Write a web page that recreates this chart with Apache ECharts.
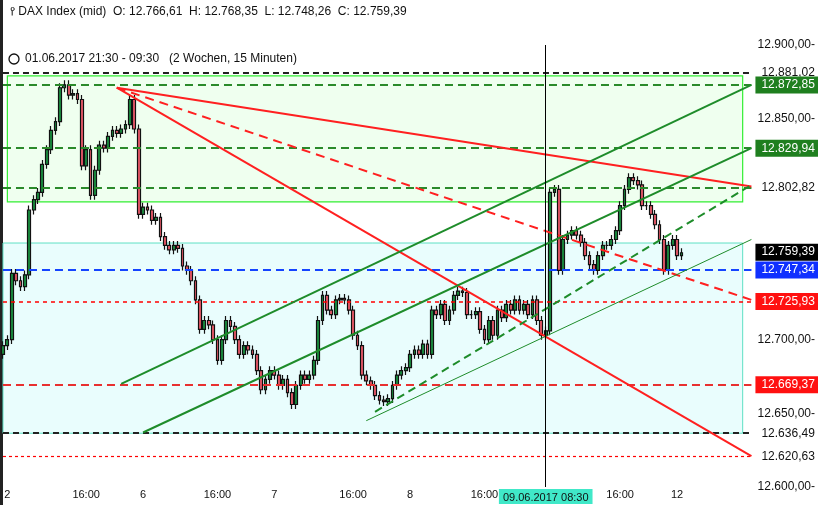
<!DOCTYPE html>
<html><head><meta charset="utf-8">
<script src="https://cdn.jsdelivr.net/npm/echarts@6/dist/echarts.min.js"></script>
<style>html,body{margin:0;padding:0;background:#fff}#c{width:818px;height:505px}</style>
</head><body><div id="c"></div>
<script>
// closes per 15-min bar (three visual segments)
const closesA = [12696,12700,12745,12740,12736,12744,12788,12795,12800,12819,12829,12842,12848,12871,12873,12866,12867,12863,12818,12829,12798,12815,12832,12830,12838,12842,12840,12843,12846,12863,12843];
const closesB = [12785,12790,12788,12781,12783,12770,12764,12761,12764,12762,
 12750,12747,12740,12727,12707,12713,12710,12700,12686,12700,
 12713,12709,12700,12690,12696,12693,12690,12679,12666,12673,
 12679,12676,12669,12673,12664,12656,12669,12676,12673,12676,
 12686,12713,12730,12720,12717,12727,12728,12727,12720,12703,
 12696,12676,12672,12669,12662,12659,12658,12660,12669,12676,
 12679,12681,12690,12693,12690,12697,12690,12720,12717,12724,
 12713,12720,12730,12733,12732,12717,12717,12719,12707,12700,
 12713,12703,12720,12715,12724,12720,12727,12720,12724,12717,12727,12713,12703,12706];
const closesC = [12800,12802,12747,12768,12771,12774,12771,12766,12757,12751,12747,12757,12764,12764,12768,12774,12791,12802,12810,12808,12805,12791,12791,12785,12778,12768,12747,12764,12768,12757,12759];
const firstOpen = 12690;
const totalSlots = 172;
const tickLabels = {1:'2',19:'16:00',32:'6',49:'16:00',62:'7',80:'16:00',93:'8',110:'16:00',124:'09.06.2017 08:30',141:'16:00',154:'12'};
const hiddenAxisValues = [12800,12750];
const hLines = [
 {v:12881.02, color:'#222', w:2, type:[6,4], tag:'12.881,02', bg:null},
 {v:12872.85, color:'#2a8a2a', w:2, type:[8,5], tag:'12.872,85', bg:'#1f7f1f'},
 {v:12829.94, color:'#2a8a2a', w:2, type:[8,5], tag:'12.829,94', bg:'#1f7f1f'},
 {v:12802.82, color:'#2a8a2a', w:2, type:[8,5], tag:'12.802,82', bg:null},
 {v:12747.34, color:'#1444ff', w:2, type:[8,5], tag:'12.747,34', bg:'#1030ff'},
 {v:12725.93, color:'#ff0000', w:1.5, type:[4,4], tag:'12.725,93', bg:'#ff1010'},
 {v:12669.37, color:'#e83030', w:2, type:[8,5], tag:'12.669,37', bg:'#ff1010'},
 {v:12636.49, color:'#222', w:2, type:[6,4], tag:'12.636,49', bg:null},
 {v:12620.63, color:'#ff0000', w:1.2, type:[3,3], tag:'12.620,63', bg:null},
 {v:12759.39, color:'rgba(0,0,0,0)', w:0, type:'solid', tag:'12.759,39', bg:'#000'}
];
// trend lines: [idx1, price1, idx2, price2]
const trends = [
 {p:[26,12871,171,12804], color:'#ff2020', type:'solid', w:2},
 {p:[26,12871,171,12621], color:'#ff2020', type:'solid', w:2},
 {p:[26,12871,171,12727], color:'#ff2020', type:[9,6], w:2},
 {p:[27,12670,171,12873], color:'#1e8c2a', type:'solid', w:2},
 {p:[32,12637,171,12830], color:'#1e8c2a', type:'solid', w:2},
 {p:[85,12651,171,12805], color:'#1e8c2a', type:[8,5], w:2},
 {p:[83,12645,171,12768], color:'#1e8c2a', type:'solid', w:1}
];

const closes = closesA.concat(closesB, closesC);
const candles = [];
let prev = firstOpen;
closes.forEach(c => { const lo=Math.min(prev,c), hi=Math.max(prev,c); candles.push([prev,c,lo-3,hi+3]); prev=c; });
const cats = []; for (let i=0;i<totalSlots;i++) cats.push(String(i));
const fmt = v => { const s=v.toFixed(2).split('.'); return s[0].replace(/\B(?=(\d{3})+(?!\d))/g,'.')+','+s[1]; };

const mlData = [];
hLines.forEach(h => {
  mlData.push([{coord:[0,h.v], lineStyle:{color:h.color,width:h.w,type:h.type},
    label:{show:true,position:'end',distance:4,formatter:h.tag,color:h.bg?'#fff':'#111',backgroundColor:h.bg||'transparent',padding:[3,4,2,6],fontSize:12,fontFamily:'Liberation Sans, Arial'}},
    {coord:[totalSlots-1,h.v]}]);
});
trends.forEach(t => {
  mlData.push([{coord:[t.p[0],t.p[1]], lineStyle:{color:t.color,width:t.w,type:t.type}, label:{show:false}},{coord:[t.p[2],t.p[3]]}]);
});
mlData.push([{coord:[124,12600], lineStyle:{color:'#000',width:1,type:'solid'}, label:{show:false}},{coord:[124,12900]}]);

const chart = echarts.init(document.getElementById('c'));
chart.setOption({
  animation:false,
  grid:{left:0,right:61,top:45,bottom:18},
  xAxis:{type:'category',data:cats,boundaryGap:true,axisLine:{show:false},axisTick:{show:false},splitLine:{show:false},
    axisLabel:{interval:0,margin:2,fontSize:11,fontFamily:'Liberation Sans, Arial',color:'#111',
      formatter:(v,i)=>tickLabels[i]?(i===124?'{hl|'+tickLabels[i]+'}':tickLabels[i]):'',
      rich:{hl:{backgroundColor:'#40e8c8',padding:[3,4,1,4],fontSize:11,color:'#111'}}}},
  yAxis:{type:'value',position:'right',min:12600,max:12900,interval:50,
    axisLine:{show:false},axisTick:{show:false},splitLine:{show:false},
    axisLabel:{formatter:v=>hiddenAxisValues.includes(v)?'':fmt(v)+'-',fontSize:12,fontFamily:'Liberation Sans, Arial',color:'#111',margin:4}},
  graphic:[
    {type:'rect',left:0,top:0,shape:{width:3,height:505},style:{fill:'#222'}},
    {type:'text',left:10,top:6,style:{text:'⫯ DAX Index (mid)  O: 12.766,61  H: 12.768,35  L: 12.748,26  C: 12.759,39',fontSize:12,fontFamily:'Liberation Sans, Arial',fill:'#111'}},
    {type:'circle',shape:{cx:14,cy:59,r:5},style:{fill:'none',stroke:'#111',lineWidth:1.3}},
    {type:'text',left:25,top:53,style:{text:'01.06.2017 21:30 - 09:30   (2 Wochen, 15 Minuten)',fontSize:12,fontFamily:'Liberation Sans, Arial',fill:'#111'}}
  ],
  series:[{
    type:'candlestick',data:candles,barWidth:'75%',
    itemStyle:{color:'#1a9040',color0:'#ee5a6a',borderColor:'#111',borderColor0:'#111',borderWidth:1.2},
    markArea:{silent:true,data:[
      [{coord:[0,12765.6],itemStyle:{color:'rgba(200,250,250,0.4)',borderColor:'#5ee0c4',borderWidth:1}},{coord:[169,12636.5]}],
      [{coord:[1,12879],itemStyle:{color:'rgba(220,255,220,0.45)',borderColor:'#33ee33',borderWidth:1.2}},{coord:[169,12793.5]}]
    ]},
    markLine:{silent:true,symbol:'none',data:mlData}
  }]
});
</script></body></html>
